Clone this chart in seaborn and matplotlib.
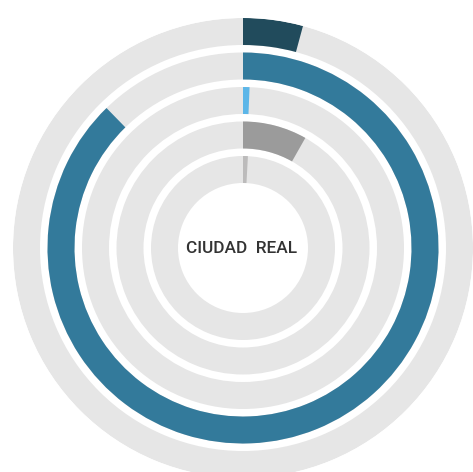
import numpy as np
import matplotlib
matplotlib.use("Agg")
import matplotlib.pyplot as plt
import seaborn as sns

# share of the full circle for every ring, outer ring first (percent)
rings = ["r1", "r2", "r3", "r4", "r5"]
values = [4.2, 87.7, 0.65, 8.2, 0.85]
colors = ["#214b5c", "#337a9b", "#5cb6e8", "#9b9b9b", "#bcbbbb"]
track_color = "#e6e6e6"
label = "CIUDAD  REAL"

sns.set_style("white")
plt.rcParams["font.family"] = ["Roboto", "DejaVu Sans"]

fig = plt.figure(figsize=(4.73, 4.72), dpi=100)
W, H = 473, 472
cx, cy, R = 243, 248, 230
ax = fig.add_axes([(cx - R) / W, (H - cy - R) / H, 2 * R / W, 2 * R / H],
                  projection="polar")
ax.set_theta_zero_location("N")
ax.set_theta_direction(-1)
ax.set_ylim(0, R)

pitch, thick = 34.5, 27
for i, (v, c) in enumerate(zip(values, colors)):
    bottom = R - thick - i * pitch
    ax.bar(0, thick, width=2 * np.pi, bottom=bottom, align="edge",
           color=track_color, linewidth=0)
    ax.bar(0, thick, width=v / 100 * 2 * np.pi, bottom=bottom, align="edge",
           color=c, linewidth=0)

ax.grid(False)
ax.set_xticks([])
ax.set_yticks([])
ax.spines["polar"].set_visible(False)
ax.set_facecolor("none")

fig.text(cx / W - 0.002, 1 - cy / H, label, ha="center", va="center",
         fontsize=12.4, fontweight="medium", color="#333333")

fig.savefig("out.png", dpi=100)
